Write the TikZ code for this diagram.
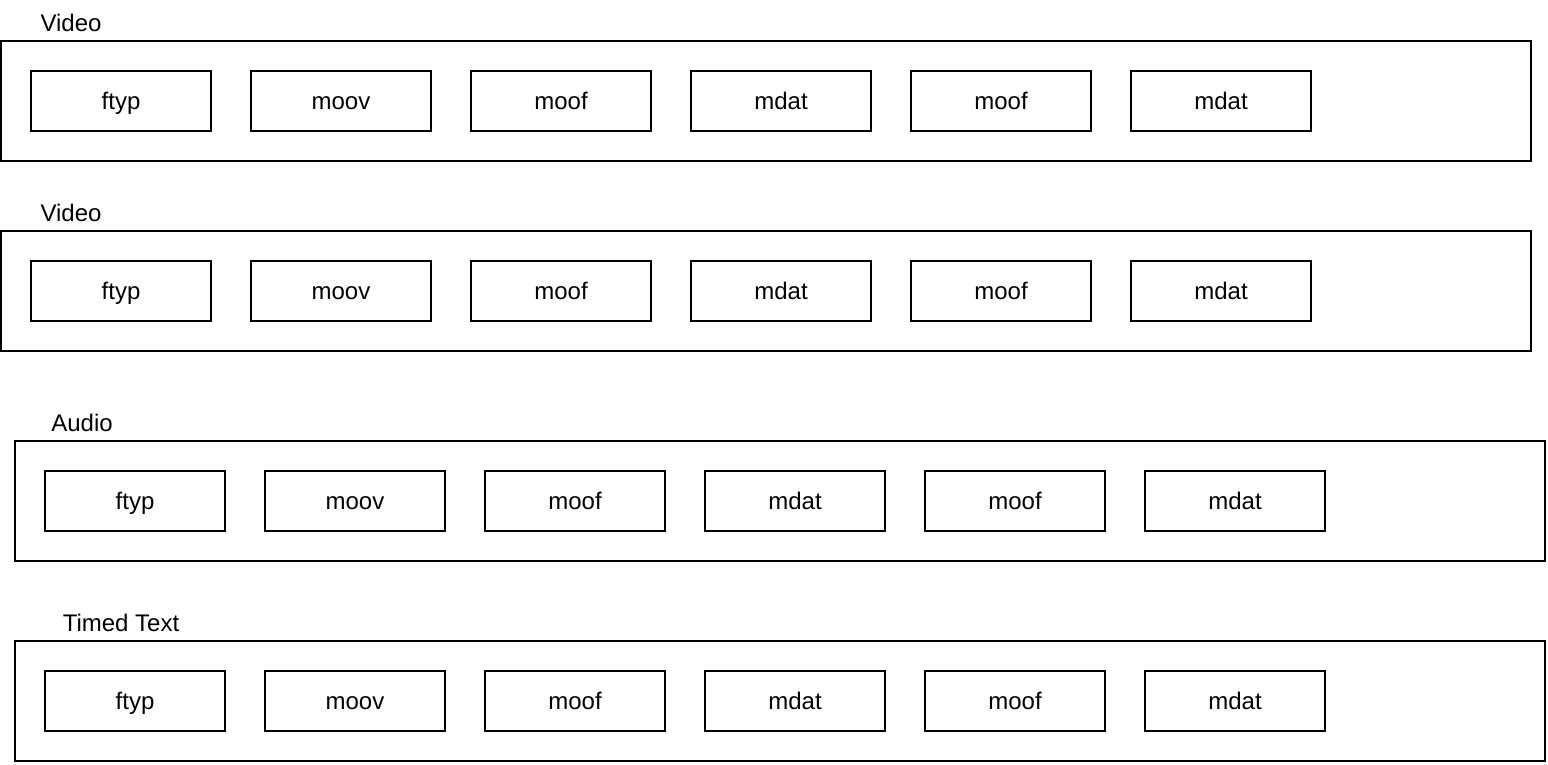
\documentclass[tikz,border=0pt]{standalone}
\usepackage{fontspec}
\setmainfont{Liberation Sans}
\begin{document}
\begin{tikzpicture}[x=1pt,y=-1pt,
  outer/.style={draw=black,line width=2pt,fill=none},
  box/.style={draw=black,line width=2pt,minimum width=180pt,minimum height=60pt,inner sep=0pt,text height=22pt,text depth=6pt,font=\fontsize{24}{28}\selectfont},
  lbl/.style={inner sep=0pt,anchor=base,font=\fontsize{24}{28}\selectfont}]
\useasboundingbox (0,0) rectangle (1548,764);
\foreach \r/\ox/\oy/\lx/\lt in {a/1/41/71/Video, b/1/231/71/Video, c/15/441/82/Audio, d/15/641/121/Timed Text}{
  \draw[outer] (\ox,\oy) rectangle ++(1530,120);
  \node[lbl] (lbl\r) at (\lx,\oy-10) {\lt};
  \foreach \i/\t in {0/ftyp,1/moov,2/moof,3/mdat,4/moof,5/mdat}{
    \node[box] (\r\i) at ({\ox+120+220*\i},\oy+60) {\t};
  }
}
\end{tikzpicture}
\end{document}
